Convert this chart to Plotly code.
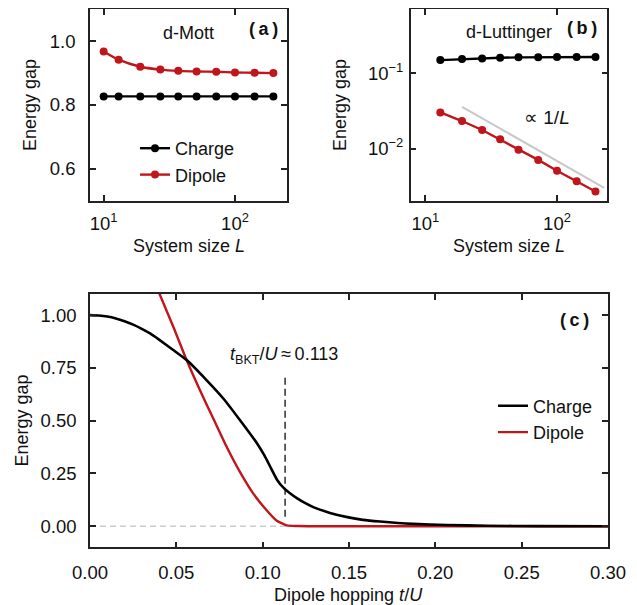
import plotly.graph_objects as go

# ---------------- data ----------------
L_a = [10, 13, 19, 27, 37, 51, 72, 100, 141, 196]
charge_a = [0.827, 0.827, 0.827, 0.827, 0.827, 0.827, 0.827, 0.827, 0.827, 0.827]
dipole_a = [0.968, 0.942, 0.920, 0.911, 0.907, 0.905, 0.904, 0.902, 0.901, 0.900]

L_b = [13, 19, 27, 37, 51, 72, 100, 141, 196]
charge_b = [0.150, 0.155, 0.158, 0.161, 0.163, 0.163, 0.165, 0.165, 0.165]
dipole_b = [0.0303, 0.0233, 0.0177, 0.0133, 0.0097, 0.0071, 0.0051, 0.0037, 0.0027]
L_guide = [19, 228]
gap_guide = [0.036, 0.00303]

t_charge = [0.000, 0.005, 0.010, 0.015, 0.020, 0.025, 0.030, 0.035, 0.040, 0.048,
            0.056, 0.0676, 0.0772, 0.0869, 0.0965, 0.1010, 0.1050, 0.1085, 0.1123,
            0.1160, 0.1200, 0.1250, 0.1300, 0.1390, 0.1490, 0.1580, 0.1680, 0.1870,
            0.2065, 0.2300, 0.2600, 0.3000]
gap_charge = [1.000, 0.998, 0.993, 0.984, 0.971, 0.955, 0.935, 0.912, 0.884, 0.836,
              0.787, 0.691, 0.605, 0.502, 0.395, 0.335, 0.272, 0.218, 0.180,
              0.155, 0.132, 0.108, 0.088, 0.063, 0.043, 0.030, 0.022, 0.011,
              0.006, 0.002, 0.0005, 0.0]

t_dipole = [0.0390, 0.0483, 0.0560, 0.0637, 0.0714, 0.0792, 0.0869, 0.0946, 0.1024,
            0.1080, 0.1139, 0.1200, 0.1300, 0.3000]
gap_dipole = [1.125, 0.944, 0.786, 0.644, 0.510, 0.375, 0.256, 0.154, 0.0745,
              0.027, 0.004, 0.001, 0.0, 0.0]

t_bkt = 0.113
bkt_line_y = [0.045, 0.71]
zero_line_t = [0.0, 0.3]
zero_line_y = [0.0, 0.0]

# ---------------- styling ----------------
BLACK = "#000000"
RED = "#c0161b"
FONT = "Liberation Sans, Arial, sans-serif"
W, H = 637, 605
OFF = 8  # page body margin offset

def px_x(p):
    return (p - OFF) / W

def px_y(p):
    return 1 - (p - OFF) / H

fig = go.Figure()

# panel (a)
fig.add_trace(go.Scatter(x=L_a, y=charge_a, mode="lines+markers", name="Charge",
                         line=dict(color=BLACK, width=2.4), marker=dict(size=8, color=BLACK),
                         xaxis="x", yaxis="y", legend="legend", legendgroup="c"))
fig.add_trace(go.Scatter(x=L_a, y=dipole_a, mode="lines+markers", name="Dipole",
                         line=dict(color=RED, width=2.4, shape="spline", smoothing=0.6),
                         marker=dict(size=8, color=RED),
                         xaxis="x", yaxis="y", legend="legend", legendgroup="d"))

# panel (b)
fig.add_trace(go.Scatter(x=L_guide, y=gap_guide, mode="lines", showlegend=False,
                         line=dict(color="#c8c8c8", width=2), xaxis="x2", yaxis="y2"))
fig.add_trace(go.Scatter(x=L_b, y=charge_b, mode="lines+markers", showlegend=False,
                         line=dict(color=BLACK, width=2.4), marker=dict(size=8, color=BLACK),
                         xaxis="x2", yaxis="y2"))
fig.add_trace(go.Scatter(x=L_b, y=dipole_b, mode="lines+markers", showlegend=False,
                         line=dict(color=RED, width=2.4), marker=dict(size=8, color=RED),
                         xaxis="x2", yaxis="y2"))

# panel (c)
fig.add_trace(go.Scatter(x=zero_line_t, y=zero_line_y, mode="lines", showlegend=False,
                         line=dict(color="#cccccc", width=1.5, dash="6px,4px"),
                         xaxis="x3", yaxis="y3"))
fig.add_trace(go.Scatter(x=[t_bkt, t_bkt], y=bkt_line_y, mode="lines", showlegend=False,
                         line=dict(color="#444444", width=1.7, dash="7px,4px"),
                         xaxis="x3", yaxis="y3"))
fig.add_trace(go.Scatter(x=t_dipole, y=gap_dipole, mode="lines", name="Dipole",
                         line=dict(color=RED, width=2.4, shape="spline", smoothing=0.5),
                         legendrank=2,
                         xaxis="x3", yaxis="y3", legend="legend2", legendgroup="d2"))
fig.add_trace(go.Scatter(x=t_charge, y=gap_charge, mode="lines", name="Charge",
                         line=dict(color=BLACK, width=2.6, shape="spline", smoothing=0.5),
                         legendrank=1,
                         xaxis="x3", yaxis="y3", legend="legend2", legendgroup="c2"))

axis_common = dict(showline=True, linecolor="#222222", linewidth=1.5, mirror="ticks",
                   ticks="inside", ticklen=6, tickwidth=1.5, tickcolor="#222222",
                   showgrid=False, zeroline=False, automargin=False,
                   tickfont=dict(family=FONT, size=18.5, color="#111111"))

dom_a_x = [px_x(90), px_x(287)]
dom_b_x = [px_x(410.7), px_x(607.3)]
dom_ab_y = [px_y(200.7), px_y(9.3)]
dom_c_x = [px_x(90), px_x(608)]
dom_c_y = [px_y(547.3), px_y(294)]

fig.update_layout(
    template="none",
    width=W, height=H, margin=dict(l=0, r=0, t=0, b=0, autoexpand=False),
    paper_bgcolor="white", plot_bgcolor="white",
    font=dict(family=FONT, size=18, color="#111111"),
    xaxis=dict(axis_common, domain=dom_a_x, type="log", range=[0.896, 2.396],
               tickvals=[10, 100], ticktext=["10<sup>1</sup>", "10<sup>2</sup>"],
               anchor="y", ticklabelstandoff=5),
    yaxis=dict(axis_common, domain=dom_ab_y, range=[0.5, 1.1],
               tickvals=[0.6, 0.8, 1.0], ticktext=["0.6", "0.8", "1.0"],
               anchor="x", ticklabelstandoff=9),
    xaxis2=dict(axis_common, domain=dom_b_x, type="log", range=[0.889, 2.382],
                tickvals=[10, 100], ticktext=["10<sup>1</sup>", "10<sup>2</sup>"],
                anchor="y2", ticklabelstandoff=5),
    yaxis2=dict(axis_common, domain=dom_ab_y, type="log", range=[-2.69, -0.15],
                tickvals=[0.01, 0.1], ticktext=["10<sup>\u22122</sup>", "10<sup>\u22121</sup>"],
                anchor="x2", ticklabelstandoff=2),
    xaxis3=dict(axis_common, domain=dom_c_x, range=[0, 0.3],
                tickvals=[0, 0.05, 0.1, 0.15, 0.2, 0.25, 0.3],
                ticktext=["0.00", "0.05", "0.10", "0.15", "0.20", "0.25", "0.30"],
                anchor="y3", ticklabelstandoff=8),
    yaxis3=dict(axis_common, domain=dom_c_y, range=[-0.1, 1.1],
                tickvals=[0, 0.25, 0.5, 0.75, 1.0],
                ticktext=["0.00", "0.25", "0.50", "0.75", "1.00"],
                anchor="x3", ticklabelstandoff=8),
    legend=dict(x=px_x(135), y=px_y(130), xanchor="left", yanchor="top",
                bgcolor="rgba(0,0,0,0)", font=dict(family=FONT, size=18),
                itemwidth=30, traceorder="grouped", tracegroupgap=0),
    legend2=dict(x=px_x(493), y=px_y(387.5), xanchor="left", yanchor="top",
                 bgcolor="rgba(0,0,0,0)", font=dict(family=FONT, size=18),
                 itemwidth=30, traceorder="grouped", tracegroupgap=0),
)

ann = []
def add_text(text, x, y, size=18, xanchor="center", yanchor="middle", angle=0, xref="paper", yref="paper"):
    ann.append(dict(text=text, x=x, y=y, xref=xref, yref=yref, showarrow=False,
                    xanchor=xanchor, yanchor=yanchor, textangle=angle,
                    font=dict(family=FONT, size=size, color="#111111")))

# panel labels and texts
add_text("d-Mott", px_x(188), px_y(33))
add_text("<b>(\u2009a\u2009)</b>", px_x(263), px_y(29))
add_text("d-Luttinger", px_x(509), px_y(32))
add_text("<b>(\u2009b\u2009)</b>", px_x(582), px_y(28))
add_text("\u221d 1/<i>L</i>", px_x(547), px_y(117), size=19)
add_text("<i>t</i><sub>BKT</sub>/<i>U</i>\u2009\u2248\u20090.113", px_x(284), px_y(355))
add_text("<b>(\u2009c\u2009)</b>", px_x(574), px_y(320))

# axis titles
add_text("System size <i>L</i>", px_x(188.5), px_y(246))
add_text("System size <i>L</i>", px_x(509), px_y(246))
add_text("Dipole hopping <i>t</i>/<i>U</i>", px_x(349), px_y(595))
add_text("Energy gap", px_x(30), px_y(105), angle=-90)
add_text("Energy gap", px_x(340), px_y(105), angle=-90)
add_text("Energy gap", px_x(21.5), px_y(421), angle=-90)

fig.update_layout(annotations=ann)
fig.write_html("out.html")
